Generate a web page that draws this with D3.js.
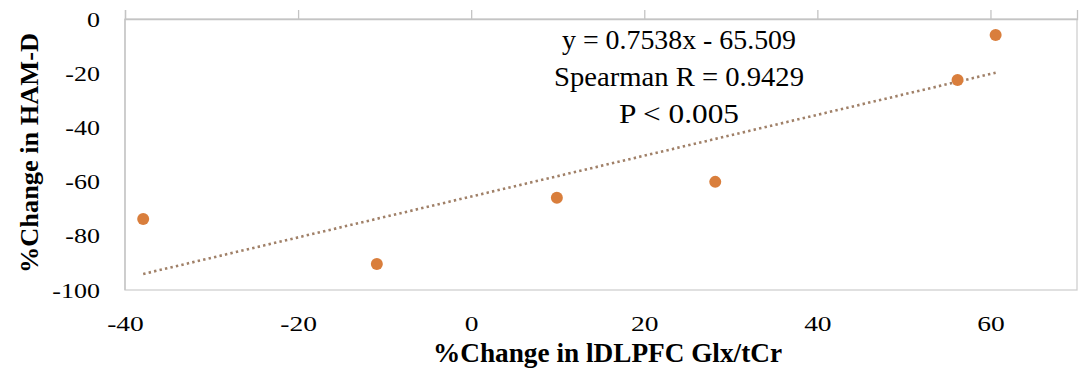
<!DOCTYPE html>
<html>
<head>
<meta charset="utf-8">
<script src="https://cdn.jsdelivr.net/npm/d3@7"></script>
<style>
  body { margin: 0; background: #fff; }
  text { font-family: "Liberation Serif", "Times New Roman", serif; fill: #000; }
</style>
</head>
<body>
<div id="chart"></div>
<script>
// data
const changeGlx = [-37.9, -10.9, 9.9, 28.2, 56.2, 60.6];
const changeHamd = [-73.8, -90.4, -66.0, -60.1, -22.5, -5.9];
const xTicks = [-40, -20, 0, 20, 40, 60];
const yTicks = [0, -20, -40, -60, -80, -100];
const fitSlope = 0.7538;
const fitIntercept = -65.509;
const notes = ["y = 0.7538x  - 65.509", "Spearman R = 0.9429", "P < 0.005"];

const W = 1084, H = 378;
const plot = { left: 125, right: 1077, top: 19, bottom: 290 };

// plain hyphen for negatives, like the original
const fmt = (d) => String(d);

const svg = d3.select("#chart").append("svg")
  .attr("width", W).attr("height", H);
svg.append("rect").attr("width", W).attr("height", H).attr("fill", "#fff");

const x = d3.scaleLinear().domain([-40, 70]).range([plot.left, plot.right]);
const y = d3.scaleLinear().domain([-100, 0]).range([plot.bottom, plot.top]);

// plot area border
svg.append("rect")
  .attr("x", plot.left).attr("y", plot.top)
  .attr("width", plot.right - plot.left)
  .attr("height", plot.bottom - plot.top)
  .attr("fill", "none").attr("stroke", "#cfcfcf").attr("stroke-width", 1.3);

// horizontal axis crosses at y = 0 (top), ticks point up
const topAxis = svg.append("g")
  .attr("transform", `translate(0,${y(0)})`)
  .call(d3.axisTop(x).tickValues(xTicks).tickSize(9).tickFormat(""));
topAxis.select(".domain").attr("stroke", "#c4c4c4").attr("stroke-width", 1.3);
topAxis.selectAll(".tick line").attr("stroke", "#c4c4c4").attr("stroke-width", 1.3);

// vertical axis line
svg.append("line")
  .attr("x1", x(-40)).attr("x2", x(-40))
  .attr("y1", plot.top).attr("y2", plot.bottom)
  .attr("stroke", "#c4c4c4").attr("stroke-width", 1.3);

// x tick labels (low position)
const xLab = svg.append("g")
  .attr("transform", `translate(0,${plot.bottom})`)
  .call(d3.axisBottom(x).tickValues(xTicks).tickSize(0).tickFormat(fmt));
xLab.select(".domain").remove();
xLab.selectAll("text")
  .attr("y", null).attr("dy", null)
  .attr("font-size", 22)
  .attr("font-family", "Liberation Serif, serif")
  .attr("fill", "#000")
  .attr("transform", "translate(0,41) scale(1.25,1)");

// y tick labels
const yLab = svg.append("g")
  .attr("transform", `translate(${plot.left},0)`)
  .call(d3.axisLeft(y).tickValues(yTicks).tickSize(0).tickFormat(fmt));
yLab.select(".domain").remove();
yLab.selectAll("text")
  .attr("x", null).attr("dy", null)
  .attr("text-anchor", "end")
  .attr("font-size", 20)
  .attr("font-family", "Liberation Serif, serif")
  .attr("fill", "#000")
  .attr("transform", "translate(-25,7) scale(1.3,1)");

// axis titles
svg.append("text")
  .attr("x", (433 + 782) / 2).attr("y", 362)
  .attr("text-anchor", "middle")
  .attr("font-size", 27).attr("font-weight", "bold")
  .attr("textLength", 349).attr("lengthAdjust", "spacingAndGlyphs")
  .text("%Change in lDLPFC Glx/tCr");

svg.append("text")
  .attr("transform", `translate(38,153) rotate(-90)`)
  .attr("text-anchor", "middle")
  .attr("font-size", 26).attr("font-weight", "bold")
  .attr("textLength", 240).attr("lengthAdjust", "spacingAndGlyphs")
  .text("%Change in HAM-D");

// linear trendline, dotted, over the data range
const fitX = d3.extent(changeGlx);
svg.append("line")
  .attr("x1", x(fitX[0])).attr("y1", y(fitSlope * fitX[0] + fitIntercept))
  .attr("x2", x(fitX[1])).attr("y2", y(fitSlope * fitX[1] + fitIntercept))
  .attr("stroke", "#a08068").attr("stroke-width", 2.6)
  .attr("stroke-dasharray", "2.4,3.2");

// points
svg.append("g")
  .selectAll("circle")
  .data(changeGlx.map((v, i) => [v, changeHamd[i]]))
  .join("circle")
  .attr("cx", (d) => x(d[0]))
  .attr("cy", (d) => y(d[1]))
  .attr("r", 6)
  .attr("fill", "#d97e3c");

// equation / stats annotation
const noteWidths = [234, 250, 120];
svg.append("g")
  .selectAll("text")
  .data(notes)
  .join("text")
  .attr("x", 679)
  .attr("y", (_, i) => 49 + i * 37)
  .attr("text-anchor", "middle")
  .attr("font-size", 28)
  .attr("textLength", (_, i) => noteWidths[i])
  .attr("lengthAdjust", "spacingAndGlyphs")
  .text((d) => d);
</script>
</body>
</html>
